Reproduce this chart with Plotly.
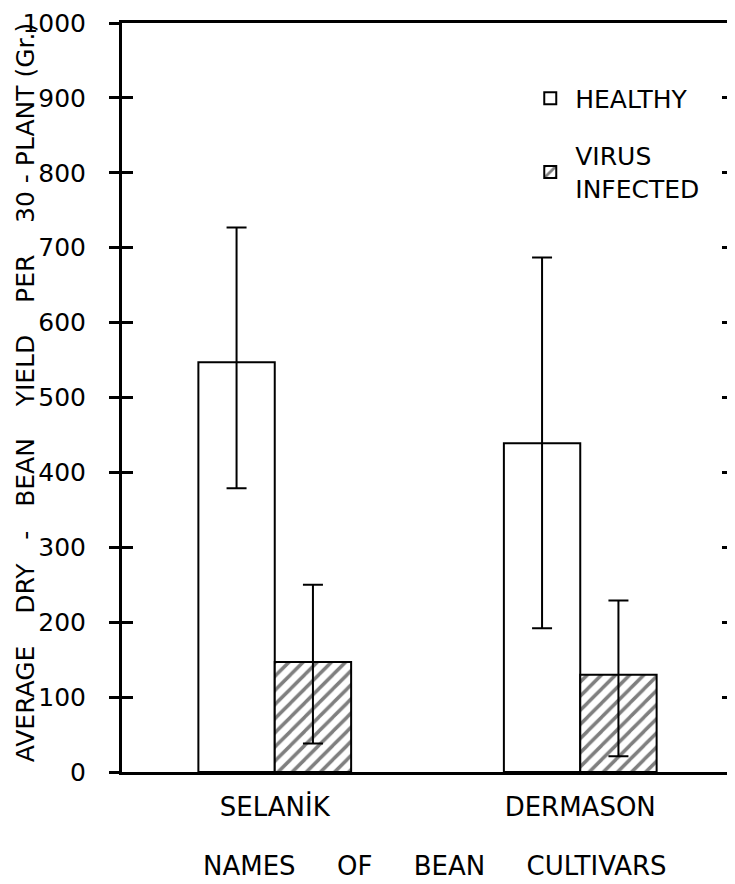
import plotly.graph_objects as go

cultivars = ["SELANİK", "DERMASON"]
healthy = [547, 439]
healthy_err_plus = [180, 248]
healthy_err_minus = [168, 247]
infected = [147, 130]
infected_err_plus = [103, 99]
infected_err_minus = [109, 109]
y_ticks = [0, 100, 200, 300, 400, 500, 600, 700, 800, 900, 1000]

FONT = "DejaVu Sans"
NB = "\u00a0"
SP = NB * 4
XSP = NB * 5

fig = go.Figure()
fig.add_trace(go.Bar(
    x=cultivars, y=healthy, name="HEALTHY", legendgroup="h",
    marker=dict(color="white", line=dict(color="black", width=2)),
    error_y=dict(type="data", array=healthy_err_plus,
                 arrayminus=healthy_err_minus, visible=True,
                 color="black", thickness=2, width=10),
))
fig.add_trace(go.Bar(
    x=cultivars, y=infected, name="VIRUS<br>INFECTED", legendgroup="v",
    marker=dict(color="white", line=dict(color="black", width=2),
                pattern=dict(shape="/", fgcolor="black", bgcolor="white",
                             size=10, solidity=0.35)),
    error_y=dict(type="data", array=infected_err_plus,
                 arrayminus=infected_err_minus, visible=True,
                 color="black", thickness=2, width=10),
))
# overlay axis giving the inward ticks on the left and right borders
fig.add_trace(go.Scatter(x=cultivars, y=[None, None], yaxis="y2",
                         showlegend=False, hoverinfo="skip"))

fig.update_layout(
    width=727, height=876,
    margin=dict(l=114, r=2, t=15, b=112, autoexpand=False),
    paper_bgcolor="white", plot_bgcolor="white",
    barmode="group", bargap=0.5, bargroupgap=0,
    font=dict(family=FONT, color="black", size=25),
    xaxis=dict(type="category", showline=True, linewidth=3, linecolor="black",
               mirror=True, ticks="", showgrid=False, automargin=False,
               tickfont=dict(size=26, family=FONT), ticklabelstandoff=10),
    yaxis=dict(range=[0, 1000], tickvals=y_ticks, ticks="outside", ticklen=10,
               tickwidth=3, tickcolor="black", showline=True, linewidth=3,
               linecolor="black", mirror=True, showgrid=False, zeroline=False,
               automargin=False, ticklabelstandoff=18,
               ticklabeloverflow="allow",
               tickfont=dict(size=25, family=FONT)),
    yaxis2=dict(range=[0, 1000], tickvals=y_ticks, overlaying="y", side="left",
                ticks="inside", ticklen=11, tickwidth=3, tickcolor="black",
                mirror="ticks", showticklabels=False, showgrid=False,
                zeroline=False, showline=False, automargin=False),
    legend=dict(x=0.66, y=0.93, xanchor="left", yanchor="top",
                bgcolor="rgba(0,0,0,0)", font=dict(size=25, family=FONT),
                itemwidth=40, tracegroupgap=22, valign="middle"),
    annotations=[
        dict(text=(f"AVERAGE{SP}DRY{NB*3}-{NB*3}BEAN{SP}YIELD{SP}PER{SP}"
                   f"30{NB}-{NB}PLANT{NB}(Gr.)"),
             xref="paper", yref="paper", x=-0.1588, y=0.507, textangle=-90,
             showarrow=False, xanchor="center", yanchor="middle",
             font=dict(size=25, family=FONT)),
        dict(text=f"NAMES{XSP}OF{XSP}BEAN{XSP}CULTIVARS",
             xref="paper", yref="paper", x=0.512, y=-0.1254,
             showarrow=False, xanchor="center", yanchor="middle",
             font=dict(size=26, family=FONT)),
    ],
)

fig.write_html("out.html")
